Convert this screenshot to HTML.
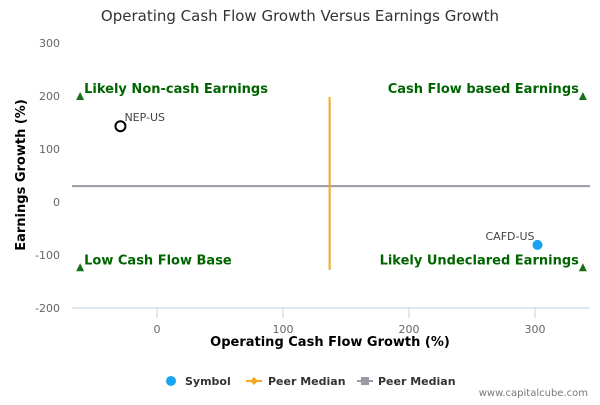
<!DOCTYPE html>
<html><head><meta charset="utf-8"><style>
body{margin:0;background:#fff;font-family:"Liberation Sans","DejaVu Sans",sans-serif}
</style></head><body>
<svg width="600" height="400" viewBox="0 0 600 400" xmlns="http://www.w3.org/2000/svg" font-family="DejaVu Sans, Liberation Sans, sans-serif">
<text x="300" y="21" text-anchor="middle" font-size="15" fill="#333">Operating Cash Flow Growth Versus Earnings Growth</text>
<g id="grid"></g>
<g id="marks"></g>
<text x="330" y="346" text-anchor="middle" font-size="13" font-weight="bold" fill="#000">Operating Cash Flow Growth (%)</text>
<text transform="translate(25,175) rotate(-90)" text-anchor="middle" font-size="13" font-weight="bold" fill="#000">Earnings Growth (%)</text>
<g font-size="11" font-weight="bold" fill="#333">
<g><circle cx="171" cy="381" r="5" fill="#1aa3f0"/><text x="185" y="385">Symbol</text></g>
<g><line x1="246" y1="381" x2="262" y2="381" stroke="#f5a623" stroke-width="2"/><path d="M254 377 L258 381 L254 385 L250 381Z" fill="#f5a623"/><text x="268" y="385">Peer Median</text></g>
<g><line x1="357" y1="381" x2="373" y2="381" stroke="#999aa6" stroke-width="2"/><rect x="361" y="377" width="8" height="8" fill="#999aa6"/><text x="378" y="385">Peer Median</text></g>
</g>
<text x="588" y="396" text-anchor="end" font-size="10" fill="#777">www.capitalcube.com</text>
</svg>
<script>
const xTicks=[0,100,200,300];
const yTicks=[300,200,100,0,-100,-200];
const symbols=["NEP-US","CAFD-US"];
const symbolX=[-29,302];
const symbolY=[143,-81];
const peerMedianX=[137];
const peerMedianY=[30];
const quadrantLabels=["Likely Non-cash Earnings","Cash Flow based Earnings","Low Cash Flow Base","Likely Undeclared Earnings"];
const quadrantX=[-61,338,-61,338];
const quadrantY=[198,198,-125,-125];
const L=72,R=590,T=43,B=308;
const X=v=>157+v*1.26;
const Y=v=>202-v*0.53;
const NS="http://www.w3.org/2000/svg";
const g=document.getElementById('grid'),m=document.getElementById('marks');
function el(p,t,a){const e=document.createElementNS(NS,t);for(const k in a)e.setAttribute(k,a[k]);p.appendChild(e);return e;}
yTicks.forEach(v=>{const t=el(g,'text',{x:60,y:Y(v)+4,'text-anchor':'end','font-size':11,fill:'#666'});t.textContent=v;

});
const ax=el(g,'line',{x1:L,y1:B,x2:R,y2:B,stroke:'#c0d0e0'});


xTicks.forEach(v=>{el(g,'line',{x1:X(v),y1:B,x2:X(v),y2:B+10,stroke:'#c0d0e0'});
const t=el(g,'text',{x:X(v),y:B+17+8,'text-anchor':'middle','font-size':11,fill:'#666'});t.textContent=v;

});
peerMedianY.forEach(v=>{const l=el(m,'line',{x1:L,y1:Y(v),x2:R,y2:Y(v),stroke:'#999aa6',"stroke-width":2});

});
peerMedianX.forEach(v=>{const l=el(m,'line',{x1:X(v),y1:Y(198),x2:X(v),y2:Y(-128),stroke:'#f5a623',"stroke-width":2});

});
quadrantLabels.forEach((s,i)=>{const x=X(quadrantX[i]),y=Y(quadrantY[i]);
const p=el(m,'path',{d:`M${x} ${y-5} L${x+4} ${y+3} L${x-4} ${y+3}Z`,fill:'#1a6e1a'});


const left=i%2==0;
const t=el(m,'text',{x:left?x+4:x-4,y:y-4,'text-anchor':left?'start':'end','font-size':13,'font-weight':'bold',fill:'#006400'});t.textContent=s;

});
symbols.forEach((s,i)=>{const x=X(symbolX[i]),y=Y(symbolY[i]);
const c=i==0?el(m,'circle',{cx:x,cy:y,r:5,fill:'#fff',stroke:'#000','stroke-width':2}):el(m,'circle',{cx:x,cy:y,r:5,fill:'#1aa3f0'});


const t=el(m,'text',i==0?{x:x+4,y:y-5,'font-size':11,fill:'#444'}:{x:x-3,y:y-5,'text-anchor':'end','font-size':11,fill:'#444'});t.textContent=s;

});
</script>
</body></html>
